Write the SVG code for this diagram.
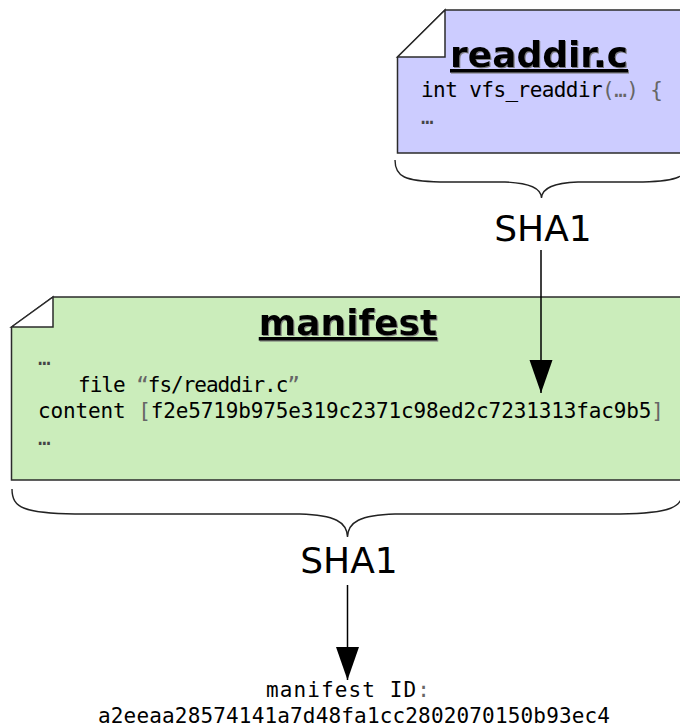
<svg xmlns="http://www.w3.org/2000/svg" width="680" height="728" viewBox="0 0 680 728">
<style>
.note{stroke:#2b2b2b;stroke-width:1.5;stroke-linejoin:miter}
.ear{fill:#ffffff;stroke:#2b2b2b;stroke-width:1.5}
.title{font-family:"DejaVu Sans",sans-serif;font-weight:bold;font-size:36px;text-decoration:underline;fill:#000;filter:url(#sh)}
.code{font-family:"DejaVu Sans Mono","Liberation Mono",monospace;font-size:21px;fill:#000}
.lt{fill:#666}
.el{fill:#444}
.sha{font-family:"DejaVu Sans",sans-serif;font-size:36px;fill:#000}
.brace{fill:none;stroke:#222;stroke-width:1.4}
.conn{stroke:#000;stroke-width:1.5;fill:none}
</style>
<defs>
<filter id="sh" x="-5%" y="-10%" width="115%" height="130%">
<feDropShadow dx="1" dy="1" stdDeviation="0.6" flood-color="#777" flood-opacity="0.9"/>
</filter>
<marker id="ah" markerUnits="userSpaceOnUse" markerWidth="34" markerHeight="24" refX="33" refY="11.5" orient="auto" viewBox="0 0 34 23">
<polygon points="0,0 33,11.5 0,23" fill="#000"/>
</marker>
</defs>

<g id="readdir">
<path class="note" fill="#ccccff" d="M397.5,57 L445,10 L690,10 L690,153 L397.5,153 Z"/>
<path class="ear" d="M397.5,57 L445,10 L445,57 Z"/>
<text class="title" x="539" y="67" text-anchor="middle">readdir.c</text>
<text class="code" x="421" y="97" textLength="242" lengthAdjust="spacing">int vfs_readdir<tspan class="lt">(…)</tspan> <tspan class="lt">{</tspan></text>
<text class="code el" x="421" y="124">…</text>
</g>

<g id="sha1-top">
<path class="brace" d="M395,160 C395,177 405,181 440,182 L505,182 C530,183 541,188 541.5,198 C542,188 553,183 578,182 L643,182 C678,181 688,177 688,160"/>
<text class="sha" x="543" y="241" text-anchor="middle">SHA1</text>
</g>

<g id="manifest">
<path class="note" fill="#cbedbb" d="M11.5,327 L53,297 L690,297 L690,480 L11.5,480 Z"/>
<path class="ear" d="M11.5,327 L53,297 L53,327 Z"/>
<text class="title" x="348" y="335" text-anchor="middle">manifest</text>
<text class="code el" x="38" y="365">…</text>
<text class="code" x="78" y="392" textLength="222" lengthAdjust="spacing">file <tspan class="lt">“</tspan>fs/readdir.c<tspan class="lt">”</tspan></text>
<text class="code" x="38" y="418" textLength="626" lengthAdjust="spacing">content <tspan class="lt">[</tspan>f2e5719b975e319c2371c98ed2c7231313fac9b5<tspan class="lt">]</tspan></text>
<text class="code el" x="38" y="445">…</text>
</g>

<g id="sha1-bottom">
<path class="brace" d="M12,489 C12,508 24,513 75,514 L300,514 C335,515 347,522 347.5,537 C348,522 360,515 395,514 L620,514 C671,513 683,508 683,489"/>
<text class="sha" x="349" y="573" text-anchor="middle">SHA1</text>
</g>

<g id="manifest-id">
<text class="code" x="348" y="697" text-anchor="middle" textLength="164" lengthAdjust="spacing">manifest ID<tspan class="lt">:</tspan></text>
<text class="code" x="98" y="723" textLength="512" lengthAdjust="spacing">a2eeaa28574141a7d48fa1cc2802070150b93ec4</text>
</g>

<g id="connectors">
<line class="conn" x1="541" y1="250" x2="541" y2="393" marker-end="url(#ah)"/>
<line class="conn" x1="347.5" y1="585" x2="347.5" y2="680" marker-end="url(#ah)"/>
</g>
</svg>
